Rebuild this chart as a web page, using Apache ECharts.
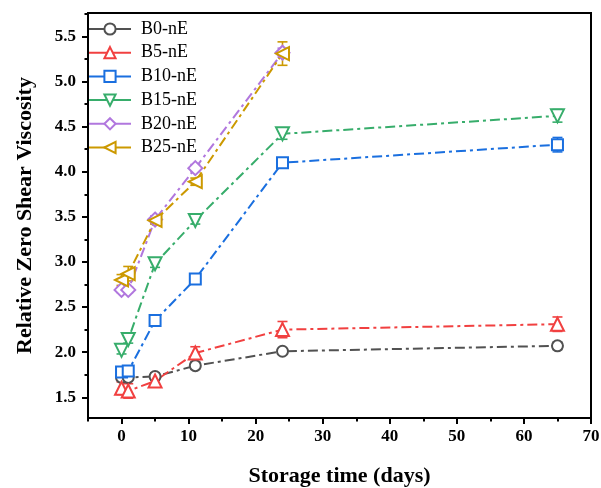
<!DOCTYPE html>
<html><head><meta charset="utf-8">
<script src="https://cdn.jsdelivr.net/npm/echarts@6/dist/echarts.min.js"></script>
<style>html,body{margin:0;padding:0;background:#fff}#c{width:601px;height:488px}</style>
</head><body><div id="c"></div>
<script>
var days = [0, 1, 5, 11, 24, 65];
var seriesNames = ['B0-nE', 'B5-nE', 'B10-nE', 'B15-nE', 'B20-nE', 'B25-nE'];
var B0 = [1.72, 1.72, 1.73, 1.85, 2.01, 2.07];
var B0err = [0.03, 0.03, 0.04, 0.04, 0.03, 0.04];
var B5 = [1.60, 1.57, 1.68, 1.99, 2.25, 2.31];
var B5err = [0.07, 0.08, 0.03, 0.07, 0.09, 0.08];
var B10 = [1.78, 1.79, 2.35, 2.81, 4.10, 4.30];
var B10err = [0.05, 0.04, 0.04, 0.04, 0.04, 0.08];
var B15 = [2.02, 2.14, 2.98, 3.46, 4.42, 4.62];
var B15err = [0.04, 0.04, 0.04, 0.04, 0.06, 0.07];
var B20 = [2.69, 2.69, 3.47, 4.04, 5.32];
var B20err = [0.03, 0.03, 0.04, 0.04, 0.05];
var B25 = [2.80, 2.87, 3.46, 3.89, 5.31];
var B25err = [0.06, 0.08, 0.04, 0.04, 0.13];
var xMajorTicks = [0, 10, 20, 30, 40, 50, 60, 70];
var xMinorTicks = [-5, 5, 15, 25, 35, 45, 55, 65];
var yMajorTicks = [1.5, 2.0, 2.5, 3.0, 3.5, 4.0, 4.5, 5.0, 5.5];
var yMinorTicks = [1.25, 1.75, 2.25, 2.75, 3.25, 3.75, 4.25, 4.75, 5.25, 5.75];

var values = [B0, B5, B10, B15, B20, B25];
var errors = [B0err, B5err, B10err, B15err, B20err, B25err];
var colors = ['#515151', '#F14040', '#1A6FDF', '#37AD6B', '#B177DE', '#CC9900'];
var symbols = ['circle', 'triangle', 'rect', 'triangle', 'diamond', 'triangle'];
var rotates = [0, 0, 0, 180, 0, 90];
var sizes = [11, 13, 11, 13, 14, 13];

var serif = 'Liberation Serif';
var series = [];
values.forEach(function (vals, i) {
  var pts = vals.map(function (v, j) { return [days[j], v]; });
  var errPts = vals.map(function (v, j) { return [days[j], v - errors[i][j], v + errors[i][j]]; });
  series.push({
    type: 'custom', name: seriesNames[i] + ' err', data: errPts, z: 3,
    encode: { x: 0, y: [1, 2] },
    renderItem: function (params, api) {
      var lo = api.coord([api.value(0), api.value(1)]);
      var hi = api.coord([api.value(0), api.value(2)]);
      var w = 5;
      var st = { stroke: colors[i], lineWidth: 1.6 };
      return { type: 'group', children: [
        { type: 'line', shape: { x1: lo[0], y1: lo[1], x2: hi[0], y2: hi[1] }, style: st },
        { type: 'line', shape: { x1: lo[0] - w, y1: lo[1], x2: lo[0] + w, y2: lo[1] }, style: st },
        { type: 'line', shape: { x1: hi[0] - w, y1: hi[1], x2: hi[0] + w, y2: hi[1] }, style: st }
      ]};
    }
  });
  series.push({
    type: 'line', name: seriesNames[i], data: pts, z: 4,
    symbol: symbols[i], symbolSize: sizes[i], symbolRotate: rotates[i],
    showAllSymbol: true,
    lineStyle: { color: colors[i], width: 2, type: [10, 4, 3, 4] },
    itemStyle: { color: '#fff', borderColor: colors[i], borderWidth: 2 },
    emphasis: { disabled: true }
  });
});

var chart = echarts.init(document.getElementById('c'));
chart.setOption({
  animation: false,
  backgroundColor: '#fff',
  grid: { left: 88, right: 10, top: 13, bottom: 70, show: true, borderColor: '#000', borderWidth: 2,
          containLabel: false, outerBoundsMode: 'none' },
  legend: {
    data: seriesNames, orient: 'vertical', left: 88, top: 20, padding: 0,
    itemWidth: 42, itemHeight: 14, itemGap: 5.7,
    lineStyle: { type: 'solid' },
    textStyle: { fontFamily: serif, fontSize: 18, color: '#000', padding: [0, 0, 0, 5] }
  },
  xAxis: [{
    type: 'value', min: -5, max: 70,
    name: 'Storage time (days)', nameLocation: 'middle', nameGap: 47,
    nameTextStyle: { fontFamily: serif, fontSize: 22, fontWeight: 'bold', color: '#000' },
    axisLine: { show: true, onZero: false, lineStyle: { color: '#000', width: 2 } },
    axisTick: { show: true, inside: false, length: 6, lineStyle: { color: '#000', width: 2 }, customValues: xMajorTicks },
    axisLabel: { fontFamily: serif, fontSize: 17, fontWeight: 'bold', color: '#000', margin: 10, customValues: xMajorTicks },
    splitLine: { show: false }
  }, {
    type: 'value', min: -5, max: 70, position: 'bottom',
    axisLine: { show: false, onZero: false },
    axisTick: { show: true, inside: false, length: 3.5, lineStyle: { color: '#000', width: 2 }, customValues: xMinorTicks },
    axisLabel: { show: false },
    splitLine: { show: false }
  }],
  yAxis: [{
    type: 'value', min: 1.27, max: 5.76,
    name: 'Relative Zero Shear Viscosity', nameLocation: 'middle', nameGap: 52,
    nameTextStyle: { fontFamily: serif, fontSize: 22, fontWeight: 'bold', color: '#000' },
    axisLine: { show: true, onZero: false, lineStyle: { color: '#000', width: 2 } },
    axisTick: { show: true, inside: false, length: 6, lineStyle: { color: '#000', width: 2 }, customValues: yMajorTicks },
    axisLabel: { fontFamily: serif, fontSize: 17, fontWeight: 'bold', color: '#000', margin: 12,
      customValues: yMajorTicks, formatter: function (v) { return v.toFixed(1); } },
    splitLine: { show: false }
  }, {
    type: 'value', min: 1.27, max: 5.76, position: 'left',
    axisLine: { show: false, onZero: false },
    axisTick: { show: true, inside: false, length: 3.5, lineStyle: { color: '#000', width: 2 }, customValues: yMinorTicks },
    axisLabel: { show: false },
    splitLine: { show: false }
  }],
  series: series
});
</script>
</body></html>
